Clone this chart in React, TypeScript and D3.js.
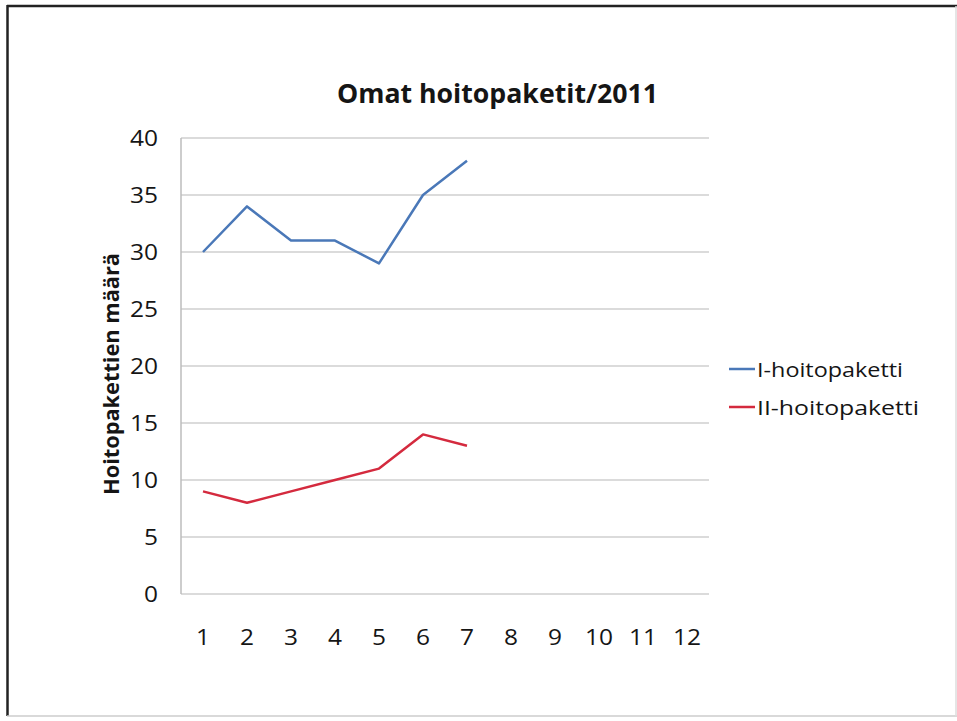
import React from "react";
import * as d3 from "d3";

const categories = ["1", "2", "3", "4", "5", "6", "7", "8", "9", "10", "11", "12"];
const series1Name = "I-hoitopaketti";
const series2Name = "II-hoitopaketti";
const series1 = [30, 34, 31, 31, 29, 35, 38];
const series2 = [9, 8, 9, 10, 11, 14, 13];
const yTicks = [0, 5, 10, 15, 20, 25, 30, 35, 40];
const title = "Omat hoitopaketit/2011";
const yTitle = "Hoitopakettien määrä";

const W = 957;
const H = 721;
const left = 181;
const right = 709;
const top = 138;
const bottom = 594;
const font = "'Open Sans', Lato, sans-serif";
const digitW = 14;

export default function App() {
  const x = d3.scaleBand<string>().domain(categories).range([left, right]);
  const y = d3.scaleLinear().domain([0, 40]).range([bottom, top]);
  const cx = (i: number) => (x(categories[i]) as number) + x.bandwidth() / 2;
  const line = d3
    .line<number>()
    .x((_, i) => cx(i))
    .y((d) => y(d));
  const blue = "#4a78b8";
  const red = "#d42a3e";
  return (
    <svg
      width={W}
      height={H}
      style={{ position: "absolute", left: 0, top: 0, background: "#fff" }}
    >
      <rect x={0} y={0} width={W} height={H} fill="#fff" />
      {/* frame */}
      <line x1={7} y1={6} x2={W} y2={6} stroke="#222" strokeWidth={2.5} />
      <line x1={7.5} y1={5} x2={7.5} y2={716} stroke="#222" strokeWidth={2.5} />
      <line x1={7} y1={716} x2={W} y2={716} stroke="#ccc" strokeWidth={1.5} />
      <line x1={956} y1={6} x2={956} y2={716} stroke="#ddd" strokeWidth={1.5} />

      <text
        x={497.5}
        y={103}
        textAnchor="middle"
        fontFamily={font}
        fontWeight="bold"
        fontSize={27}
        fill="#151515"
        textLength={321}
        lengthAdjust="spacingAndGlyphs"
      >
        {title}
      </text>

      {yTicks.map((t) => (
        <g key={t}>
          <line
            x1={left}
            x2={right}
            y1={y(t)}
            y2={y(t)}
            stroke="#cfcfcf"
            strokeWidth={1.5}
          />
          <text
            x={158}
            y={y(t) + 7.5}
            textAnchor="end"
            fontFamily={font}
            fontSize={21}
            fill="#151515"
            textLength={String(t).length * digitW}
            lengthAdjust="spacingAndGlyphs"
          >
            {t}
          </text>
        </g>
      ))}
      <line x1={left} x2={left} y1={top} y2={bottom} stroke="#bdbdbd" strokeWidth={1.5} />

      {categories.map((c, i) => (
        <text
          key={c}
          x={cx(i)}
          y={645}
          textAnchor="middle"
          fontFamily={font}
          fontSize={21}
          fill="#151515"
          textLength={c.length * digitW}
          lengthAdjust="spacingAndGlyphs"
        >
          {c}
        </text>
      ))}

      <text
        transform={`translate(119,374) rotate(-90)`}
        textAnchor="middle"
        fontFamily={font}
        fontWeight="bold"
        fontSize={22}
        fill="#151515"
        textLength={242}
        lengthAdjust="spacingAndGlyphs"
      >
        {yTitle}
      </text>

      <path d={line(series1) || ""} fill="none" stroke={blue} strokeWidth={2.5} strokeLinejoin="round" />
      <path d={line(series2) || ""} fill="none" stroke={red} strokeWidth={2.5} strokeLinejoin="round" />

      {/* legend */}
      <line x1={729} x2={755} y1={369} y2={369} stroke={blue} strokeWidth={2.5} />
      <text
        x={757}
        y={377}
        fontFamily={font}
        fontSize={20}
        fill="#151515"
        textLength={146}
        lengthAdjust="spacingAndGlyphs"
      >
        {series1Name}
      </text>
      <line x1={729} x2={755} y1={407} y2={407} stroke={red} strokeWidth={2.5} />
      <text
        x={757}
        y={415}
        fontFamily={font}
        fontSize={20}
        fill="#151515"
        textLength={162}
        lengthAdjust="spacingAndGlyphs"
      >
        {series2Name}
      </text>
    </svg>
  );
}
